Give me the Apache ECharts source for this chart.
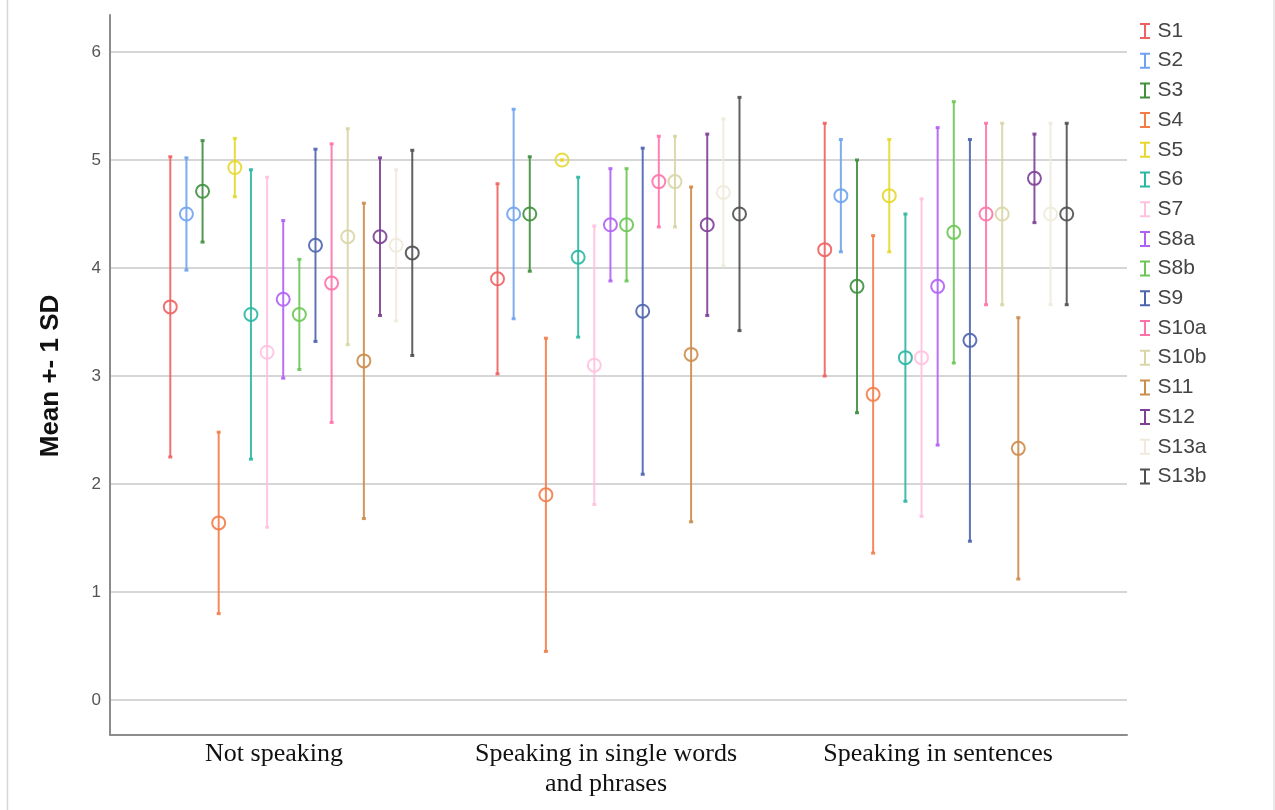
<!DOCTYPE html>
<html>
<head>
<meta charset="utf-8">
<title>Mean +- 1 SD by speaking level</title>
<script src="https://cdn.jsdelivr.net/npm/echarts@6/dist/echarts.min.js"></script>
<style>
  html, body { margin: 0; padding: 0; background: #ffffff; }
  #chart { width: 1275px; height: 810px; }
</style>
</head>
<body>
<div id="chart"></div>
<script>
// Speaking levels (x categories)
const categories = ['Not speaking', 'Speaking in single words\nand phrases', 'Speaking in sentences'];

// Subjects (one series each)
const subjects = ['S1', 'S2', 'S3', 'S4', 'S5', 'S6', 'S7', 'S8a', 'S8b', 'S9', 'S10a', 'S10b', 'S11', 'S12', 'S13a', 'S13b'];
const subjectColors = ['#f06262', '#6fa3ef', '#3f8f3f', '#f47c4a', '#e6d82c', '#2ab7a2', '#ffc1e0', '#b060f5',
                       '#6cc654', '#4d64b0', '#ff72a8', '#d9d5a6', '#cc8c4a', '#7e3f98', '#efeadb', '#505050'];

// Means and standard deviations per speaking level, in subject order
const meanNotSpeaking = [3.64, 4.50, 4.71, 1.64, 4.93, 3.57, 3.22, 3.71, 3.57, 4.21, 3.86, 4.29, 3.14, 4.29, 4.21, 4.14];
const sdNotSpeaking   = [1.39, 0.52, 0.47, 0.84, 0.27, 1.34, 1.62, 0.73, 0.51, 0.89, 1.29, 1.00, 1.46, 0.73, 0.70, 0.95];

const meanSingleWords = [3.90, 4.50, 4.50, 1.90, 5.00, 4.10, 3.10, 4.40, 4.40, 3.60, 4.80, 4.80, 3.20, 4.40, 4.70, 4.50];
const sdSingleWords   = [0.88, 0.97, 0.53, 1.45, 0.00, 0.74, 1.29, 0.52, 0.52, 1.51, 0.42, 0.42, 1.55, 0.84, 0.68, 1.08];

const meanSentences = [4.17, 4.67, 3.83, 2.83, 4.67, 3.17, 3.17, 3.83, 4.33, 3.33, 4.50, 4.50, 2.33, 4.83, 4.50, 4.50];
const sdSentences   = [1.17, 0.52, 1.17, 1.47, 0.52, 1.33, 1.47, 1.47, 1.21, 1.86, 0.84, 0.84, 1.21, 0.41, 0.84, 0.84];

// Y ticks
const yTicks = { min: 0, max: 6, interval: 1 };

const levelMeans = [meanNotSpeaking, meanSingleWords, meanSentences];
const levelSds = [sdNotSpeaking, sdSingleWords, sdSentences];

// Share of one category band taken by each subject's slot
const SLOT = 0.0493;
const FONT_SANS = '"Liberation Sans", Arial, sans-serif';
const FONT_SERIF = '"Liberation Serif", "Times New Roman", serif';

function makeRenderer(k, color) {
  return function (params, api) {
    const cat = api.value(0);
    const mean = api.value(1);
    const sd = api.value(2);
    const c = api.coord([cat, mean]);
    const hi = api.coord([cat, mean + sd]);
    const lo = api.coord([cat, mean - sd]);
    const step = api.size([1, 0])[0] * SLOT;
    const x = c[0] + (k - (subjects.length - 1) / 2) * step;
    const capHalf = 2;
    const lineStyle = { stroke: color, lineWidth: 2, opacity: 0.9 };
    return {
      type: 'group',
      children: [
        { type: 'line', shape: { x1: x, y1: hi[1], x2: x, y2: lo[1] }, style: lineStyle },
        { type: 'line', shape: { x1: x - capHalf, y1: hi[1], x2: x + capHalf, y2: hi[1] }, style: { stroke: color, lineWidth: 3, opacity: 0.9 } },
        { type: 'line', shape: { x1: x - capHalf, y1: lo[1], x2: x + capHalf, y2: lo[1] }, style: { stroke: color, lineWidth: 3, opacity: 0.9 } },
        { type: 'circle', shape: { cx: x, cy: c[1], r: 6.5 }, style: { fill: 'none', stroke: color, lineWidth: 2, opacity: 0.9 } }
      ]
    };
  };
}

const series = subjects.map(function (name, k) {
  return {
    name: name,
    type: 'custom',
    xAxisIndex: 0,
    yAxisIndex: 0,
    itemStyle: { color: subjectColors[k] },
    encode: { x: 0, y: 1 },
    renderItem: makeRenderer(k, subjectColors[k]),
    data: categories.map(function (_, i) {
      return [i, levelMeans[i][k], levelSds[i][k]];
    })
  };
});

const chart = echarts.init(document.getElementById('chart'), null, { renderer: 'canvas' });

chart.setOption({
  backgroundColor: '#ffffff',
  animation: false,
  graphic: [
    { type: 'line', shape: { x1: 7.5, y1: 0, x2: 7.5, y2: 810 }, style: { stroke: '#d6d6d6', lineWidth: 1.5 }, silent: true },
    { type: 'line', shape: { x1: 1274, y1: 0, x2: 1274, y2: 810 }, style: { stroke: '#e2e2e2', lineWidth: 1.5 }, silent: true }
  ],
  legend: {
    orient: 'vertical',
    left: 1135,
    top: 15,
    itemWidth: 11,
    itemHeight: 16,
    itemGap: 7.7,
    icon: 'path://M0,0H10V2H6V14H10V16H0V14H4V2H0Z',
    textStyle: { fontFamily: FONT_SANS, fontSize: 21, color: '#444444', lineHeight: 22, padding: [0, 0, 0, 2] },
    data: subjects,
    selectedMode: false
  },
  grid: [
    // data area
    { left: 110, right: 148, top: 52, bottom: 110 },
    // axis frame
    { left: 110, right: 148, top: 15, bottom: 75 },
    // category labels
    { left: 108, width: 996, top: 15, bottom: 75 }
  ],
  xAxis: [
    {
      type: 'value', gridIndex: 0, min: -0.554, max: 2.554,
      axisLine: { show: false }, axisTick: { show: false }, axisLabel: { show: false }, splitLine: { show: false }
    },
    {
      type: 'value', gridIndex: 1, min: 0, max: 1,
      axisLine: { show: true, onZero: false, lineStyle: { color: '#8c8c8c', width: 2 } },
      axisTick: { show: false }, axisLabel: { show: false }, splitLine: { show: false }
    },
    {
      type: 'category', gridIndex: 2, data: categories,
      axisLine: { show: false }, axisTick: { show: false }, splitLine: { show: false },
      axisLabel: { show: true, margin: 4, fontFamily: FONT_SERIF, fontSize: 26, color: '#111111', lineHeight: 30, interval: 0 }
    }
  ],
  yAxis: [
    {
      type: 'value', gridIndex: 0, min: yTicks.min, max: yTicks.max, interval: yTicks.interval,
      name: 'Mean +- 1 SD', nameLocation: 'middle', nameGap: 46,
      nameTextStyle: { fontFamily: FONT_SANS, fontSize: 26, fontWeight: 'bold', color: '#111111' },
      axisLine: { show: false }, axisTick: { show: false },
      axisLabel: { margin: 9, fontFamily: FONT_SANS, fontSize: 17, color: '#555555' },
      splitLine: { show: true, lineStyle: { color: '#c8c8c8', width: 1.5 } }
    },
    {
      type: 'value', gridIndex: 1, min: 0, max: 1,
      axisLine: { show: true, onZero: false, lineStyle: { color: '#8c8c8c', width: 2 } },
      axisTick: { show: false }, axisLabel: { show: false }, splitLine: { show: false }
    },
    {
      type: 'value', gridIndex: 2, min: 0, max: 1, show: false
    }
  ],
  series: series
});
</script>
</body>
</html>
